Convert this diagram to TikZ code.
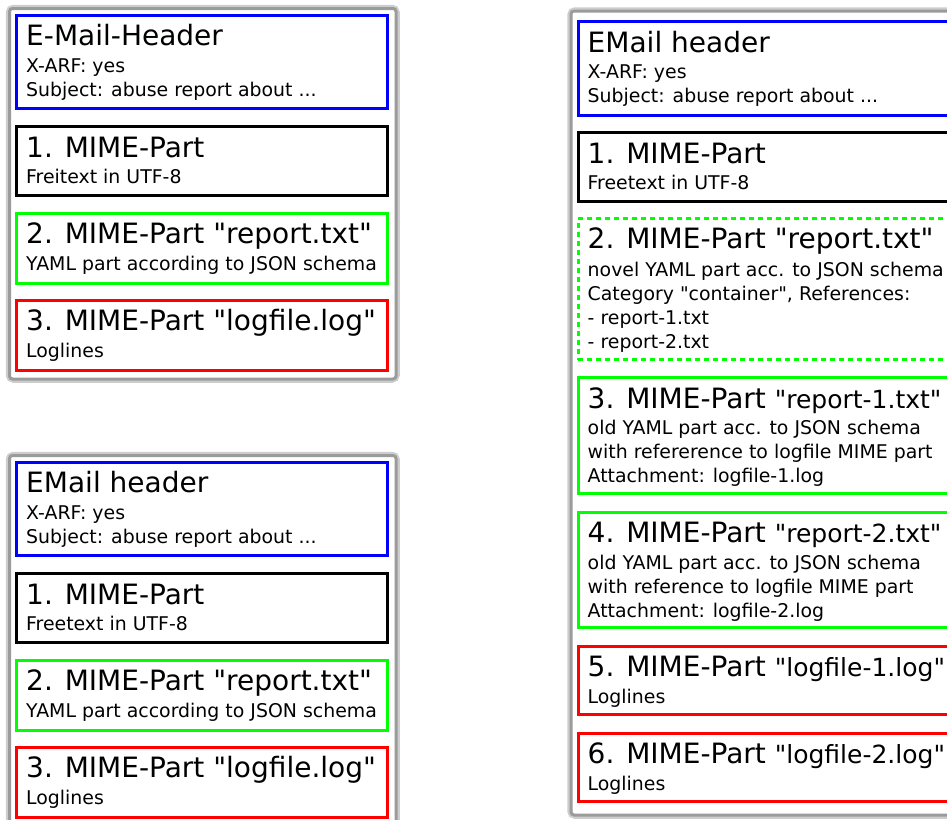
\documentclass[tikz,border=0pt]{standalone}
\usepackage{fontspec}
\setmainfont[Ligatures=TeXOff]{DejaVu Sans}
\usetikzlibrary{positioning}
\definecolor{mailblue}{RGB}{0,0,255}
\definecolor{mailgreen}{RGB}{0,255,0}
\definecolor{mailred}{RGB}{255,0,0}
\definecolor{framegray}{RGB}{155,155,155}
\definecolor{framehalo}{RGB}{205,205,205}

\begin{document}
\begin{tikzpicture}[x=1pt, y=-1pt,
    part/.style={draw, line width=3pt, outer sep=0pt, inner sep=0pt, anchor=north west, fill=white},
    ptitle/.style={anchor=base west, inner sep=0pt, font=\fontsize{28}{34}\selectfont},
    pbody/.style={anchor=north west, inner sep=0pt, align=left, font=\fontsize{18.9}{24}\selectfont},
    halo/.style={draw=framehalo, line width=7.5pt, rounded corners=4pt},
    frame/.style={draw=framegray, line width=3pt, rounded corners=3pt, fill=white}
]

\useasboundingbox (0,0) rectangle (947,819);

% Left column: the same message twice
\foreach \msg/\dy/\headtxt/\freetxt in {upper/0/E-Mail-Header/Freitext, lower/447/EMail header/Freetext} {
  \draw[halo] (9.5,8.5+\dy) rectangle (396,379+\dy);
  \draw[frame] (9.5,8.5+\dy) rectangle (396,379+\dy);

  \node[part, draw=mailblue, minimum width=371pt, minimum height=93pt] (\msg-head) at (16.5,15+\dy) {};
  \node[ptitle] at ([shift={(9.5,30.5)}]\msg-head.north west) {\headtxt};
  \node[pbody] at ([shift={(9.5,40)}]\msg-head.north west) {\strut X-ARF: yes\\Subject: abuse report about ...};

  \node[part, draw=black, minimum width=371pt, minimum height=69pt] (\msg-one) at (16.5,126.5+\dy) {};
  \node[ptitle] at ([shift={(9.5,30.5)}]\msg-one.north west) {1. MIME-Part};
  \node[pbody] at ([shift={(9.5,40)}]\msg-one.north west) {\strut \freetxt{} in UTF-8};

  \node[part, draw=mailgreen, minimum width=371pt, minimum height=70pt] (\msg-two) at (16.5,213+\dy) {};
  \node[ptitle] at ([shift={(9.5,30.5)}]\msg-two.north west) {2. MIME-Part "report.txt"};
  \node[pbody] at ([shift={(9.5,40)}]\msg-two.north west) {\strut YAML part according to JSON schema};

  \node[part, draw=mailred, minimum width=371pt, minimum height=70pt] (\msg-three) at (16.5,300+\dy) {};
  \node[ptitle] at ([shift={(9.5,30.5)}]\msg-three.north west) {3. MIME-Part "logfile.log"};
  \node[pbody] at ([shift={(9.5,40)}]\msg-three.north west) {\strut Loglines};
}

% Right column: container report
\draw[halo] (571,11) rectangle (1000,815);
\draw[frame] (571,11) rectangle (1000,815);

\node[part, draw=mailblue, minimum width=400pt, minimum height=94pt] (head) at (578,21.5) {};
\node[ptitle] at ([shift={(9.5,30.5)}]head.north west) {EMail header};
\node[pbody] at ([shift={(9.5,40)}]head.north west) {\strut X-ARF: yes\\Subject: abuse report about ...};

\node[part, draw=black, minimum width=400pt, minimum height=69pt] (one) at (578,132.5) {};
\node[ptitle] at ([shift={(9.5,30.5)}]one.north west) {1. MIME-Part};
\node[pbody] at ([shift={(9.5,40)}]one.north west) {\strut Freetext in UTF-8};

\node[part, draw=mailgreen, dash pattern=on 5pt off 4pt, minimum width=400pt, minimum height=141pt] (two) at (578,218.5) {};
\node[ptitle] at ([shift={(9.5,30)}]two.north west) {2. MIME-Part "report.txt"};
\node[pbody] at ([shift={(9.5,40.5)}]two.north west) {\strut novel YAML part acc. to JSON schema\\Category "container", References:\\- report-1.txt\\- report-2.txt};

\node[part, draw=mailgreen, minimum width=400pt, minimum height=116pt] (three) at (578,377.5) {};
\node[ptitle] at ([shift={(9.5,30.5)}]three.north west) {3. MIME-Part {\fontsize{25}{30}\selectfont "report-1.txt"}};
\node[pbody] at ([shift={(9.5,40)}]three.north west) {\strut old YAML part acc. to JSON schema\\with refererence to logfile MIME part\\Attachment: logfile-1.log};

\node[part, draw=mailgreen, minimum width=400pt, minimum height=115pt] (four) at (578,512.5) {};
\node[ptitle] at ([shift={(9.5,30)}]four.north west) {4. MIME-Part {\fontsize{25}{30}\selectfont "report-2.txt"}};
\node[pbody] at ([shift={(9.5,39.5)}]four.north west) {\strut old YAML part acc. to JSON schema\\with reference to logfile MIME part\\Attachment: logfile-2.log};

\node[part, draw=mailred, minimum width=400pt, minimum height=68pt] (five) at (578,646.5) {};
\node[ptitle] at ([shift={(9.5,30)}]five.north west) {5. MIME-Part {\fontsize{25}{30}\selectfont "logfile-1.log"}};
\node[pbody] at ([shift={(9.5,39.5)}]five.north west) {\strut Loglines};

\node[part, draw=mailred, minimum width=400pt, minimum height=68pt] (six) at (578,733.5) {};
\node[ptitle] at ([shift={(9.5,30)}]six.north west) {6. MIME-Part {\fontsize{25}{30}\selectfont "logfile-2.log"}};
\node[pbody] at ([shift={(9.5,39.5)}]six.north west) {\strut Loglines};

\end{tikzpicture}
\end{document}
